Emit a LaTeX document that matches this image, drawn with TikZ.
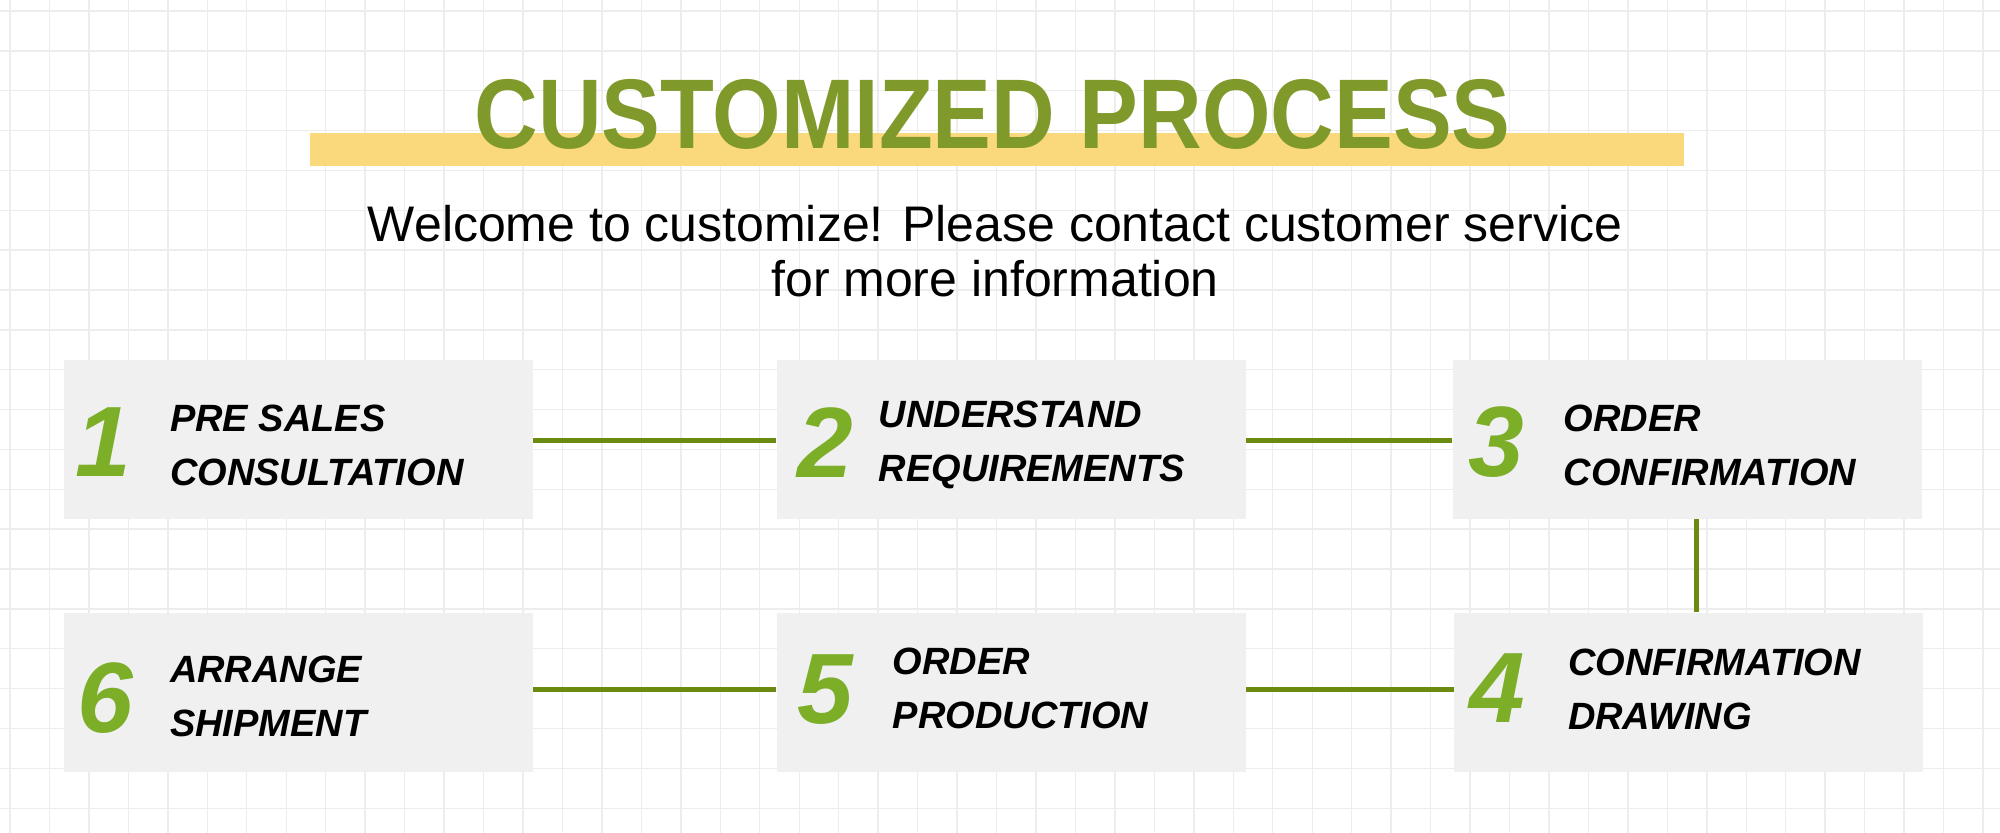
\documentclass[tikz,border=0pt]{standalone}
\usepackage{fontspec}
\setmainfont{Liberation Sans}
\usetikzlibrary{positioning}
\definecolor{gridgray}{HTML}{EDEDED}
\definecolor{boxgray}{HTML}{F0F0F0}
\definecolor{titlegreen}{HTML}{7F9A2B}
\definecolor{baryellow}{HTML}{FAD97C}
\definecolor{linkgreen}{HTML}{6A8A10}
\definecolor{numgreen}{HTML}{7CAE28}

\begin{document}
\begin{tikzpicture}[x=0.5pt,y=-0.5pt]
			\tikzset{
			  StepBox/.style = { fill=boxgray, inner sep=0pt,
			                     minimum width=234.5pt, minimum height=79.5pt },
			  StepNum/.style = { text=numgreen, inner sep=0pt,
			                     font=\fontsize{50}{50}\selectfont\bfseries\itshape },
			  StepText/.style = { anchor=west, align=left, inner sep=0pt,
			                      font=\fontsize{19}{27}\selectfont\bfseries\itshape },
			  LinkStyle/.style = { draw=linkgreen, line width=2.5pt } }
			\useasboundingbox (0,0) rectangle (2000,833);
			\fill[white] (0,0) rectangle (2000,833);
			\foreach \gx in {0,...,50}
			  \draw[gridgray, line width=0.7pt] ({10+39.46*\gx},0) -- ++(0,833);
			\foreach \gy in {0,...,20}
			  \draw[gridgray, line width=0.7pt] (0,{11+39.86*\gy}) -- ++(2000,0);
			% heading
			\fill[baryellow] (310,133) rectangle (1684,166);
			\node[text=titlegreen, inner sep=0pt,
			      font=\fontsize{49.5}{50}\selectfont\bfseries] (title) at (992.5,114.5)
			      {\scalebox{0.89}[1]{CUSTOMIZED PROCESS}};
			\node[align=center, inner sep=0pt, font=\fontsize{25}{27.5}\selectfont] (intro)
			      at (995,251.5) {Welcome to customize! Please contact customer service\\for more information};
			% steps
			\node[StepBox] (s1) at (298.5,439.5) {};
			\node[StepBox, right=121.5pt of s1] (s2) {};
			\node[StepBox, right=103pt of s2] (s3) {};
			\node[StepBox, below=46.5pt of s3, xshift=0.75pt] (s4) {};
			\node[StepBox, below=46.5pt of s2] (s5) {};
			\node[StepBox, below=46.5pt of s1] (s6) {};
			\node[StepNum] (n1) at ([xshift=20pt,yshift=-1.25pt]s1.west) {1};
			\node[StepNum] (n2) at ([xshift=24.5pt,yshift=-1.75pt]s2.west) {2};
			\node[StepNum] (n3) at ([xshift=22pt,yshift=-1.25pt]s3.west) {3};
			\node[StepNum] (n4) at ([xshift=22pt,yshift=2pt]s4.west) {4};
			\node[StepNum] (n5) at ([xshift=24.5pt,yshift=1.5pt]s5.west) {5};
			\node[StepNum] (n6) at ([xshift=21pt,yshift=-2.75pt]s6.west) {6};
			\node[StepText] (t1) at ([xshift=53pt,yshift=-2.75pt]s1.west) {PRE SALES\\CONSULTATION};
			\node[StepText] (t2) at ([xshift=51pt,yshift=-2.75pt]s2.west) {UNDERSTAND\\REQUIREMENTS};
			\node[StepText] (t3) at ([xshift=55.5pt,yshift=-2.75pt]s3.west) {ORDER\\CONFIRMATION};
			\node[StepText] (t4) at ([xshift=57pt,yshift=1.25pt]s4.west) {CONFIRMATION\\DRAWING};
			\node[StepText] (t5) at ([xshift=58pt,yshift=2pt]s5.west) {ORDER\\PRODUCTION};
			\node[StepText] (t6) at ([xshift=53pt,yshift=-2pt]s6.west) {ARRANGE\\SHIPMENT};
			% links
			\draw[LinkStyle] ([yshift=-0.75pt]s1.east) -- ([yshift=-0.75pt]s2.west);
			\draw[LinkStyle] ([yshift=-0.75pt]s2.east) -- ([yshift=-0.75pt]s3.west);
			\draw[LinkStyle] ([xshift=4.5pt]s3.south) -- ([xshift=3.75pt]s4.north);
			\draw[LinkStyle] ([yshift=1.5pt]s4.west) -- ([yshift=1.5pt]s5.east);
			\draw[LinkStyle] ([yshift=1.5pt]s5.west) -- ([yshift=1.5pt]s6.east);
		\end{tikzpicture}
\end{document}
